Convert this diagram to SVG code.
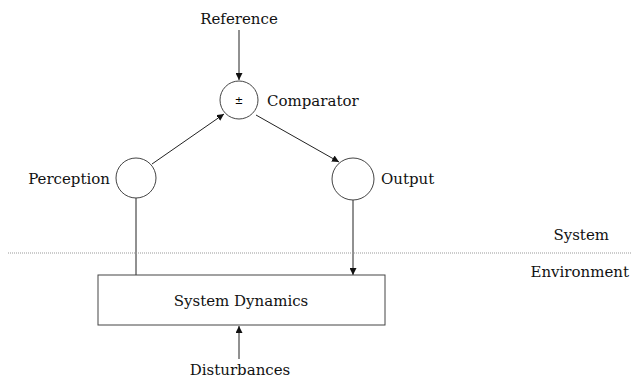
<svg xmlns="http://www.w3.org/2000/svg" width="631" height="381" viewBox="0 0 631 381">
<style>
.n{fill:#fff;stroke:#444;stroke-width:1}
.c{stroke:#222;stroke-width:1;fill:none}
.t{font-family:"DejaVu Serif",serif;font-size:15px;fill:#111}
</style>
<defs>
<marker id="a" viewBox="0 0 10 10" refX="10" refY="5" markerWidth="7" markerHeight="7" markerUnits="userSpaceOnUse" orient="auto"><path d="M0,0L10,5L0,10z" fill="#111"/></marker>
</defs>
<rect width="631" height="381" fill="#fff"/>
<g id="connectors">
<line class="c" x1="239" y1="30" x2="239" y2="80" marker-end="url(#a)"/>
<line class="c" x1="152" y1="164" x2="224" y2="114" marker-end="url(#a)"/>
<line class="c" x1="256" y1="115" x2="339" y2="162" marker-end="url(#a)"/>
<line class="c" x1="136" y1="198" x2="136" y2="275"/>
<line class="c" x1="353" y1="200" x2="353" y2="275" marker-end="url(#a)"/>
<line class="c" x1="239" y1="359" x2="239" y2="326" marker-end="url(#a)"/>
</g>
<line x1="8" y1="253" x2="631" y2="253" stroke="#999" stroke-width="1" stroke-dasharray="1,1"/>
<g id="reference"><text class="t" x="239" y="24" text-anchor="middle">Reference</text></g>
<g id="comparator"><circle class="n" cx="239" cy="100" r="19"/><text x="239" y="104" text-anchor="middle" font-family="DejaVu Sans, sans-serif" font-size="10">±</text><text class="t" x="267" y="106">Comparator</text></g>
<g id="perception"><circle class="n" cx="136" cy="178" r="20"/><text class="t" x="110" y="184" text-anchor="end">Perception</text></g>
<g id="output"><circle class="n" cx="353" cy="179" r="21"/><text class="t" x="381" y="184">Output</text></g>
<g id="system-dynamics"><rect class="n" x="98" y="275" width="287" height="50"/><text class="t" x="241" y="306" text-anchor="middle">System Dynamics</text></g>
<g id="disturbances"><text class="t" x="240" y="375" text-anchor="middle">Disturbances</text></g>
<text class="t" x="609" y="240" text-anchor="end">System</text>
<text class="t" x="629" y="277" text-anchor="end">Environment</text>
</svg>
